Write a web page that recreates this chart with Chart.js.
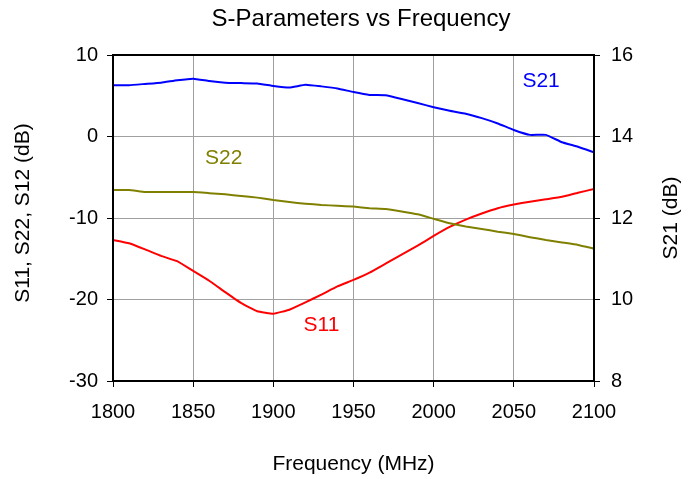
<!DOCTYPE html>
<html>
<head>
<meta charset="utf-8">
<script src="https://cdn.jsdelivr.net/npm/chart.js@4.4.1/dist/chart.umd.min.js"></script>
<style>
  html, body { margin: 0; padding: 0; background: #fff; }
  #wrap { width: 691px; height: 479px; }
</style>
</head>
<body>
<div id="wrap"><canvas id="sparams" width="691" height="479"></canvas></div>
<script>
// frequency points (MHz)
const freqs = [1800, 1810, 1820, 1830, 1840, 1850, 1860, 1870, 1880, 1890, 1900,
  1910, 1920, 1930, 1940, 1950, 1960, 1970, 1980, 1990, 2000,
  2010, 2020, 2030, 2040, 2050, 2060, 2070, 2080, 2090, 2100];

// S21 (dB), right axis
const s21 = [15.26, 15.26, 15.29, 15.32, 15.38, 15.42, 15.36, 15.32, 15.31, 15.30, 15.24,
  15.20, 15.27, 15.23, 15.18, 15.09, 15.02, 15.01, 14.92, 14.82, 14.72,
  14.63, 14.56, 14.45, 14.32, 14.16, 14.04, 14.04, 13.86, 13.75, 13.61];

// S11 (dB), left axis
const s11 = [-12.7, -13.1, -13.85, -14.65, -15.3, -16.5, -17.7, -19.1, -20.45, -21.45, -21.75,
  -21.25, -20.35, -19.4, -18.4, -17.6, -16.7, -15.6, -14.5, -13.4, -12.2,
  -11.1, -10.2, -9.45, -8.8, -8.35, -8.0, -7.7, -7.4, -6.9, -6.45];

// S22 (dB), left axis
const s22 = [-6.56, -6.56, -6.8, -6.81, -6.81, -6.81, -6.95, -7.1, -7.3, -7.5, -7.8,
  -8.05, -8.25, -8.4, -8.5, -8.6, -8.8, -8.9, -9.2, -9.55, -10.1,
  -10.65, -11.05, -11.35, -11.68, -11.96, -12.35, -12.7, -13.0, -13.3, -13.75];

const xTicks = [1800, 1850, 1900, 1950, 2000, 2050, 2100];
const leftTicks = [10, 0, -10, -20, -30];
const rightTicks = [16, 14, 12, 10, 8];

const FONT = '"Liberation Sans", Arial, sans-serif';
const BLUE = '#0000ff', RED = '#ff0000', OLIVE = '#808000';

const toPoints = (ys) => freqs.map((f, i) => ({ x: f, y: ys[i] }));

// titles, series labels and the box round the plot
const decorations = {
  id: 'decorations',
  afterDraw(chart) {
    const { ctx, chartArea: a, scales } = chart;
    ctx.save();

    ctx.strokeStyle = '#000';
    ctx.lineWidth = 2;
    ctx.strokeRect(a.left, a.top, a.right - a.left, a.bottom - a.top);

    ctx.fillStyle = '#000';
    ctx.textAlign = 'center';
    ctx.textBaseline = 'middle';
    ctx.font = '24px ' + FONT;
    ctx.fillText('S-Parameters vs Frequency', 361, 19);

    ctx.font = '21px ' + FONT;
    ctx.fillText('Frequency (MHz)', (a.left + a.right) / 2, 464);

    ctx.save();
    ctx.translate(23, 213);
    ctx.rotate(-Math.PI / 2);
    ctx.fillText('S11, S22, S12 (dB)', 0, 0);
    ctx.restore();

    ctx.save();
    ctx.translate(671, 218);
    ctx.rotate(-Math.PI / 2);
    ctx.fillText('S21 (dB)', 0, 0);
    ctx.restore();

    const x = scales.x, y = scales.y;
    ctx.font = '21px ' + FONT;
    [['S21', 2067, 6.8, BLUE], ['S22', 1869, -2.7, OLIVE], ['S11', 1930, -23.1, RED]].forEach(([t, fx, fy, c]) => {
      ctx.fillStyle = c;
      ctx.fillText(t, x.getPixelForValue(fx), y.getPixelForValue(fy));
    });
    ctx.restore();
  }
};

new Chart(document.getElementById('sparams'), {
  type: 'line',
  data: {
    datasets: [
      { label: 'S21', data: toPoints(s21), yAxisID: 'y1', borderColor: BLUE },
      { label: 'S22', data: toPoints(s22), yAxisID: 'y', borderColor: OLIVE },
      { label: 'S11', data: toPoints(s11), yAxisID: 'y', borderColor: RED },
    ],
  },
  options: {
    responsive: false,
    animation: false,
    layout: { padding: { top: 55, left: 0, right: 0, bottom: 0 } },
    elements: {
      line: { borderWidth: 2, tension: 0.1, fill: false },
      point: { radius: 0 },
    },
    plugins: {
      legend: { display: false },
      tooltip: { enabled: false },
      title: { display: false },
    },
    scales: {
      x: {
        type: 'linear',
        min: 1800,
        max: 2100,
        afterBuildTicks: (s) => { s.ticks = xTicks.map(v => ({ value: v })); },
        afterFit: (s) => { s.height = 98; },
        grid: { color: '#a0a0a0', lineWidth: 1, tickLength: 6, tickColor: '#000' },
        border: { display: false },
        ticks: {
          color: '#000',
          font: { family: FONT, size: 20 },
          padding: 13,
          maxRotation: 0,
          callback: (v) => String(v),
        },
      },
      y: {
        position: 'left',
        min: -30,
        max: 10,
        afterBuildTicks: (s) => { s.ticks = leftTicks.map(v => ({ value: v })); },
        afterFit: (s) => { s.width = 113; },
        grid: { color: '#a0a0a0', lineWidth: 1, tickLength: 6, tickColor: '#000' },
        border: { display: false },
        ticks: {
          color: '#000',
          font: { family: FONT, size: 20 },
          padding: 9,
          callback: (v) => String(v),
        },
      },
      y1: {
        position: 'right',
        min: 8,
        max: 16,
        afterBuildTicks: (s) => { s.ticks = rightTicks.map(v => ({ value: v })); },
        afterFit: (s) => { s.width = 97; },
        grid: { drawOnChartArea: false, tickLength: 6, tickColor: '#000' },
        border: { display: false },
        ticks: {
          color: '#000',
          font: { family: FONT, size: 20 },
          padding: 11,
          callback: (v) => String(v),
        },
      },
    },
  },
  plugins: [decorations],
});
</script>
</body>
</html>
